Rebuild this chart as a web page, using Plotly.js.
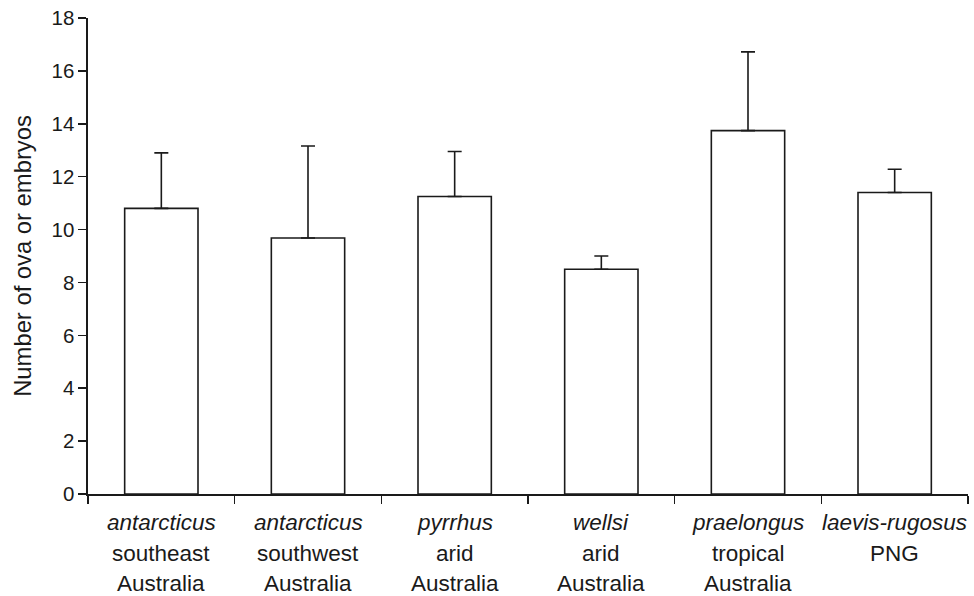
<!DOCTYPE html>
<html>
<head>
<meta charset="utf-8">
<script src="https://cdn.plot.ly/plotly-3.0.1.min.js"></script>
<style>html,body{margin:0;padding:0;background:#fff;}#chart{width:974px;height:596px;}</style>
</head>
<body>
<div id="chart"></div>
<script>
const species = ["antarcticus", "antarcticus", "pyrrhus", "wellsi", "praelongus", "laevis-rugosus"];
const regionLine1 = ["southeast", "southwest", "arid", "arid", "tropical", "PNG"];
const regionLine2 = ["Australia", "Australia", "Australia", "Australia", "Australia", ""];
const meanValues = [10.8, 9.68, 11.25, 8.5, 13.74, 11.4];
const upperError = [2.1, 3.48, 1.7, 0.5, 2.98, 0.88];
const yTickValues = [0, 2, 4, 6, 8, 10, 12, 14, 16, 18];

const cats = species.map((s, i) => "c" + i);

const trace = {
  type: "bar",
  x: cats,
  y: meanValues,
  width: 0.5,
  marker: { color: "#ffffff", line: { color: "#1a1a1a", width: 1.6 } },
  error_y: {
    type: "data",
    symmetric: false,
    array: upperError,
    arrayminus: upperError.map(() => 0),
    color: "#1a1a1a",
    thickness: 1.6,
    width: 7
  },
  hoverinfo: "none"
};

const font = { family: "Liberation Sans, Arial, Helvetica, sans-serif", color: "#1a1a1a" };
const annotations = [];
const rows = [
  { arr: species, italic: true, dy: 28 },
  { arr: regionLine1, italic: false, dy: 59 },
  { arr: regionLine2, italic: false, dy: 89 }
];
rows.forEach(r => {
  r.arr.forEach((t, i) => {
    if (!t) return;
    annotations.push({
      x: cats[i], xref: "x", y: 0, yref: "paper",
      yshift: -r.dy, yanchor: "middle", xanchor: "center",
      text: r.italic ? "<i>" + t + "</i>" : t,
      showarrow: false,
      font: Object.assign({}, font, { size: 22.5 })
    });
  });
});

const layout = {
  width: 974, height: 596,
  margin: { l: 88, r: 6, t: 18, b: 102 },
  paper_bgcolor: "#ffffff", plot_bgcolor: "#ffffff",
  font: font,
  showlegend: false,
  bargap: 0.5,
  xaxis: {
    type: "category",
    range: [-0.5, 5.5],
    showgrid: false, zeroline: false,
    showline: true, linecolor: "#1a1a1a", linewidth: 1.6,
    ticks: "outside", tickson: "boundaries", ticklen: 8, tickwidth: 1.6, tickcolor: "#1a1a1a",
    showticklabels: false,
    fixedrange: true
  },
  yaxis: {
    range: [0, 18],
    tickvals: yTickValues,
    ticktext: yTickValues.map(String),
    showgrid: false, zeroline: false,
    showline: true, linecolor: "#1a1a1a", linewidth: 1.6,
    ticks: "outside", ticklen: 8, tickwidth: 1.6, tickcolor: "#1a1a1a",
    tickfont: Object.assign({}, font, { size: 20.5 }),
    title: { text: "Number of ova or embryos", font: Object.assign({}, font, { size: 23.8 }), standoff: 13 },
    fixedrange: true
  },
  annotations: annotations
};

Plotly.newPlot("chart", [trace], layout, { staticPlot: true, displayModeBar: false });
</script>
</body>
</html>
